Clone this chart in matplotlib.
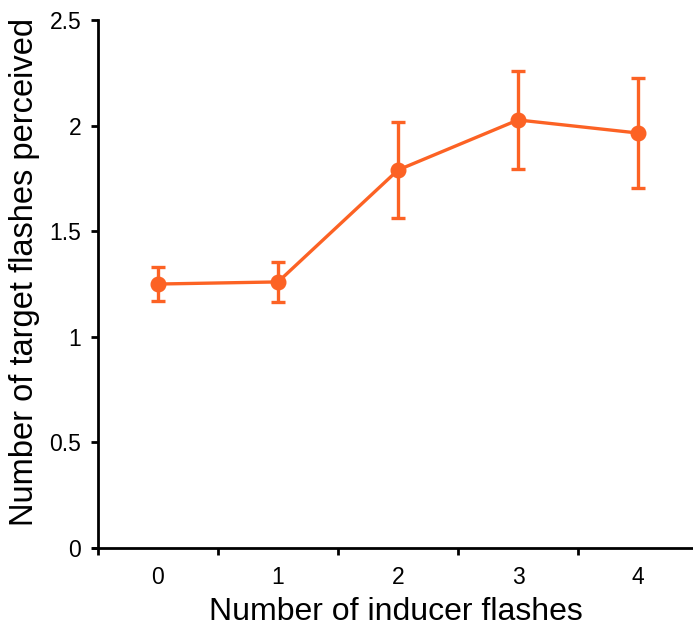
import matplotlib

matplotlib.use("Agg")
import matplotlib.pyplot as plt

inducer_flashes = [0, 1, 2, 3, 4]
perceived_mean = [1.25, 1.26, 1.79, 2.027, 1.965]
perceived_err = [0.08, 0.093, 0.225, 0.232, 0.26]
y_ticks = [0, 0.5, 1, 1.5, 2, 2.5]
y_tick_labels = ["0", "0.5", "1", "1.5", "2", "2.5"]

ORANGE = "#fc6224"

plt.rcParams["font.family"] = ["Liberation Sans", "DejaVu Sans"]

fig = plt.figure(figsize=(6.93, 6.27), dpi=100)
ax = fig.add_axes([0.1414, 0.126, 0.859, 0.842])

ax.errorbar(
    inducer_flashes,
    perceived_mean,
    yerr=perceived_err,
    color=ORANGE,
    linewidth=2.4,
    marker="o",
    markersize=10.5,
    elinewidth=2.4,
    capsize=5,
    capthick=2.4,
)

ax.set_xlim(-0.5, 4.46)
ax.set_ylim(0, 2.5)
ax.set_yticks(y_ticks)
ax.set_yticklabels(y_tick_labels, fontsize=16.5)
ax.set_xticks([-0.5, 0.5, 1.5, 2.5, 3.5])
ax.set_xticklabels([])
ax.set_xticks(inducer_flashes, minor=True)
ax.set_xticklabels([str(v) for v in inducer_flashes], minor=True, fontsize=16.5)
ax.tick_params(axis="x", which="minor", length=0, pad=13)
ax.tick_params(axis="x", which="major", length=5, width=2)
ax.tick_params(axis="y", length=5, width=2, pad=7)

for side in ("top", "right"):
    ax.spines[side].set_visible(False)
for side in ("left", "bottom"):
    ax.spines[side].set_linewidth(2)
ax.spines["bottom"].set_bounds(-0.54, 4.46)

ax.set_xlabel("Number of inducer flashes", fontsize=23, labelpad=6)
ax.set_ylabel("Number of target flashes perceived", fontsize=23.5)
ax.yaxis.set_label_coords(-0.098, 0.523)

fig.savefig("out.png")
